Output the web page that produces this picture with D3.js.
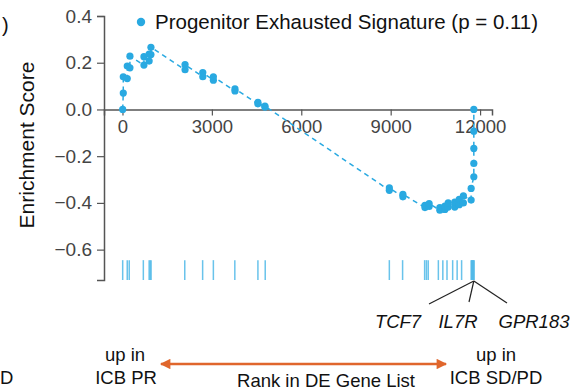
<!DOCTYPE html>
<html>
<head>
<meta charset="utf-8">
<script src="https://cdn.jsdelivr.net/npm/d3@7"></script>
<style>
  body { margin: 0; background: #fff; }
  text { font-family: 'Liberation Sans', Arial, sans-serif; }
</style>
</head>
<body>
<div id="chart"></div>
<script>
// running enrichment score, read at each hit: [rank, score]
const esRank = [7, 27, 27, 160, 160, 250, 250, 720, 720, 895, 895, 955, 955,
  2100, 2100, 2695, 2695, 3050, 3050, 3775, 3775, 4545, 4545, 4780, 4780,
  8955, 8955, 9410, 9410, 10150, 10150, 10290, 10290, 10650, 10650,
  10820, 10820, 10930, 10930, 11150, 11150, 11300, 11300, 11440, 11440,
  11700, 11700, 11790, 11790, 11790, 11790, 11790];
const esScore = [0.000, 0.070, 0.140, 0.132, 0.186, 0.178, 0.228, 0.190, 0.226, 0.207, 0.237, 0.235, 0.266,
  0.170, 0.192, 0.140, 0.158, 0.125, 0.140, 0.079, 0.088, 0.024, 0.030, 0.010, 0.014,
  -0.346, -0.336, -0.374, -0.363, -0.420, -0.410, -0.415, -0.403, -0.431, -0.420,
  -0.428, -0.414, -0.418, -0.400, -0.418, -0.397, -0.408, -0.385, -0.400, -0.370,
  -0.388, -0.338, -0.288, -0.231, -0.167, -0.093, 0.000];

// gene set hits along the ranked list
const hitRanks = [7, 160, 227, 700, 895, 930, 960, 2090, 2690, 3050, 3770, 4545, 4790,
  8955, 9400, 10140, 10200, 10260, 10600, 10750, 10890, 11080, 11230, 11380,
  11700, 11720, 11740, 11760, 11780, 11800];

const xTicks = [0, 3000, 6000, 9000, 12000];
const yTicks = [0.4, 0.2, 0.0, -0.2, -0.4, -0.6];
const genes = ['TCF7', 'IL7R', 'GPR183'];
const legendLabel = 'Progenitor Exhausted Signature (p = 0.11)';

const blue = '#29a9e1';
const rugBlue = '#4fb8e8';
const grey = '#555';

const svg = d3.select('#chart')
  .append('svg')
  .attr('width', 587)
  .attr('height', 390);

const x = d3.scaleLinear()
  .domain([-620, 12400])
  .range([104, 492]);

const y = d3.scaleLinear()
  .domain([-0.73, 0.4])
  .range([280, 16]);

// y axis
const yAxis = d3.axisLeft(y)
  .tickValues(yTicks)
  .tickFormat(d3.format('.1f'))
  .tickSizeOuter(0)
  .tickSize(7)
  .tickPadding(5);

const gy = svg.append('g')
  .attr('transform', 'translate(' + x.range()[0] + ',0)')
  .call(yAxis);
gy.select('.domain').attr('stroke', grey).attr('stroke-width', 1.5);
gy.selectAll('.tick line').attr('stroke', grey).attr('stroke-width', 1.2);
gy.selectAll('.tick text')
  .attr('fill', '#444')
  .style('font-size', '19px');

// x axis on the zero line
const xAxis = d3.axisBottom(x)
  .tickValues(xTicks)
  .tickFormat(d3.format('d'))
  .tickSizeOuter(0)
  .tickSize(6)
  .tickPadding(4);

const gx = svg.append('g')
  .attr('transform', 'translate(0,' + y(0) + ')')
  .call(xAxis);
gx.select('.domain').attr('stroke', grey).attr('stroke-width', 1.5);
gx.selectAll('.tick line').attr('stroke', grey).attr('stroke-width', 1.2);
gx.selectAll('.tick text')
  .attr('fill', '#444')
  .style('font-size', '18.5px');

svg.append('text')
  .attr('transform', 'translate(34,' + 145 + ') rotate(-90)')
  .attr('text-anchor', 'middle')
  .style('font-size', '21px')
  .attr('fill', '#111')
  .text('Enrichment Score');

// rug of hits
svg.append('g')
  .selectAll('line')
  .data(hitRanks)
  .enter().append('line')
    .attr('x1', d => x(d))
    .attr('x2', d => x(d))
    .attr('y1', y(-0.645))
    .attr('y2', y(-0.73))
    .attr('stroke', rugBlue)
    .attr('stroke-opacity', 0.85)
    .attr('stroke-width', 1.5);

// running score
const pts = esRank.map((r, i) => [r, esScore[i]]);

svg.append('path')
  .datum(pts)
  .attr('fill', 'none')
  .attr('stroke', blue)
  .attr('stroke-width', 1.5)
  .attr('stroke-dasharray', '5,4')
  .attr('d', d3.line().x(d => x(d[0])).y(d => y(d[1])));

svg.append('g')
  .selectAll('circle')
  .data(pts)
  .enter().append('circle')
    .attr('cx', d => x(d[0]))
    .attr('cy', d => y(d[1]))
    .attr('r', 3.6)
    .attr('fill', blue);

// legend
svg.append('circle')
  .attr('cx', 141).attr('cy', 22).attr('r', 4.2)
  .attr('fill', blue);
svg.append('text')
  .attr('x', 155).attr('y', 29)
  .style('font-size', '20.5px')
  .attr('fill', '#111')
  .text(legendLabel);

// gene callouts
const apex = [x(11790), 281];
const geneX = [398, 458, 534];
const lineEnd = [[429, 304], [469, 302], [507, 303]];

svg.append('g')
  .selectAll('line')
  .data(lineEnd)
  .enter().append('line')
    .attr('x1', apex[0]).attr('y1', apex[1])
    .attr('x2', d => d[0]).attr('y2', d => d[1])
    .attr('stroke', '#222')
    .attr('stroke-width', 1.2);

svg.append('g')
  .selectAll('text')
  .data(genes)
  .enter().append('text')
    .attr('x', (d, i) => geneX[i])
    .attr('y', 328)
    .attr('text-anchor', 'middle')
    .style('font-size', '18.5px')
    .style('font-style', 'italic')
    .attr('fill', '#111')
    .text(d => d);

// bottom annotation
svg.append('defs').append('marker')
  .attr('id', 'head')
  .attr('viewBox', '0 0 10 10')
  .attr('refX', 9).attr('refY', 5)
  .attr('markerWidth', 4.5).attr('markerHeight', 4)
  .attr('orient', 'auto-start-reverse')
  .append('path')
    .attr('d', 'M0,0L10,5L0,10z')
    .attr('fill', '#e0662c');

svg.append('line')
  .attr('x1', 161).attr('x2', 446)
  .attr('y1', 364).attr('y2', 364)
  .attr('stroke', '#e0662c')
  .attr('stroke-width', 2.6)
  .attr('marker-start', 'url(#head)')
  .attr('marker-end', 'url(#head)');

const bottomText = [
  ['up in', 125, 361], ['ICB PR', 126, 384],
  ['up in', 496, 361], ['ICB SD/PD', 496, 384],
  ['Rank in DE Gene List', 326, 387]
];
svg.append('g')
  .selectAll('text')
  .data(bottomText)
  .enter().append('text')
    .attr('x', d => d[1])
    .attr('y', d => d[2])
    .attr('text-anchor', 'middle')
    .style('font-size', '18.5px')
    .attr('fill', '#111')
    .text(d => d[0]);

// clipped panel labels from neighbouring figure parts
svg.append('text').attr('x', 2).attr('y', 32)
  .style('font-size', '20px').attr('fill', '#111').text(')');
svg.append('text').attr('x', 0).attr('y', 384)
  .style('font-size', '18.5px').attr('fill', '#111').text('D');
</script>
</body>
</html>
